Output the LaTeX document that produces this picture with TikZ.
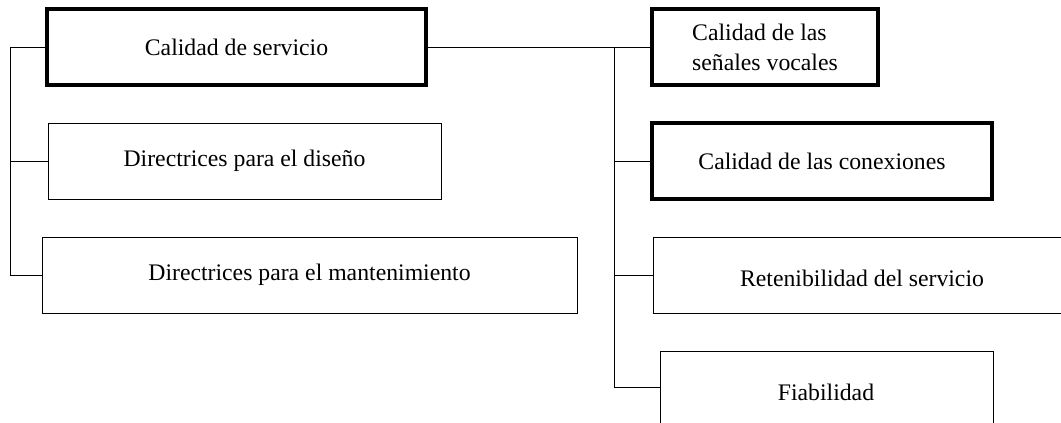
\documentclass[tikz,border=0pt]{standalone}
\usepackage{fontspec}
\setmainfont{Liberation Serif}
\usetikzlibrary{positioning}

\begin{document}
\begin{tikzpicture}
  [x=0.75pt, y=-0.75pt, text centered,
   font=\fontsize{17.8}{22.5}\selectfont,
   box/.style={draw, line width=0.7pt, minimum height=57pt, inner sep=0pt},
   mainbox/.style={box, line width=3pt},
   link/.style={line width=0.7pt}]
  \useasboundingbox (0,0) rectangle (1061,423);
  \clip (0,0) rectangle (1061,423);

  % nodes %
  \node[mainbox, minimum width=284.25pt] (serv) at (236.5,47) {Calidad de servicio};
  \node[box, minimum width=294.75pt] (dis) at (244.5,161) {Directrices para el dise\~no};
  \node[box, minimum width=401.25pt] (mant) at (309.5,275) {Directrices para el mantenimiento};

  \node[mainbox, minimum width=169.5pt, align=left] (senal) at (765,47) {Calidad de las\\se\~nales vocales};
  \node[mainbox, minimum width=255pt] (conex) at (822,161) {Calidad de las conexiones};
  \node[box, minimum width=335.25pt] (reten) at (876.5,275) {};
  \node (retentxt) at (862,278) {Retenibilidad del servicio};
  \node[box, minimum width=249.75pt, minimum height=81.75pt] (fiab) at (826.5,405.5) {};
  \node (fiabtxt) at (826,392) {Fiabilidad};

  \coordinate (lbot) at (10,275);
  \coordinate (rbot) at (614,387);

  % edges %
  \draw[link] (serv.west) -| (lbot) -- (mant.west);
  \draw[link] (dis.west) -- (dis.west -| lbot);
  \draw[link] (serv.east) -- (senal.west);
  \draw[link] (rbot |- serv.east) -- (rbot) -- (rbot -| fiab.west);
  \draw[link] (conex.west) -- (conex.west -| rbot);
  \draw[link] (reten.west) -- (reten.west -| rbot);
\end{tikzpicture}
\end{document}
